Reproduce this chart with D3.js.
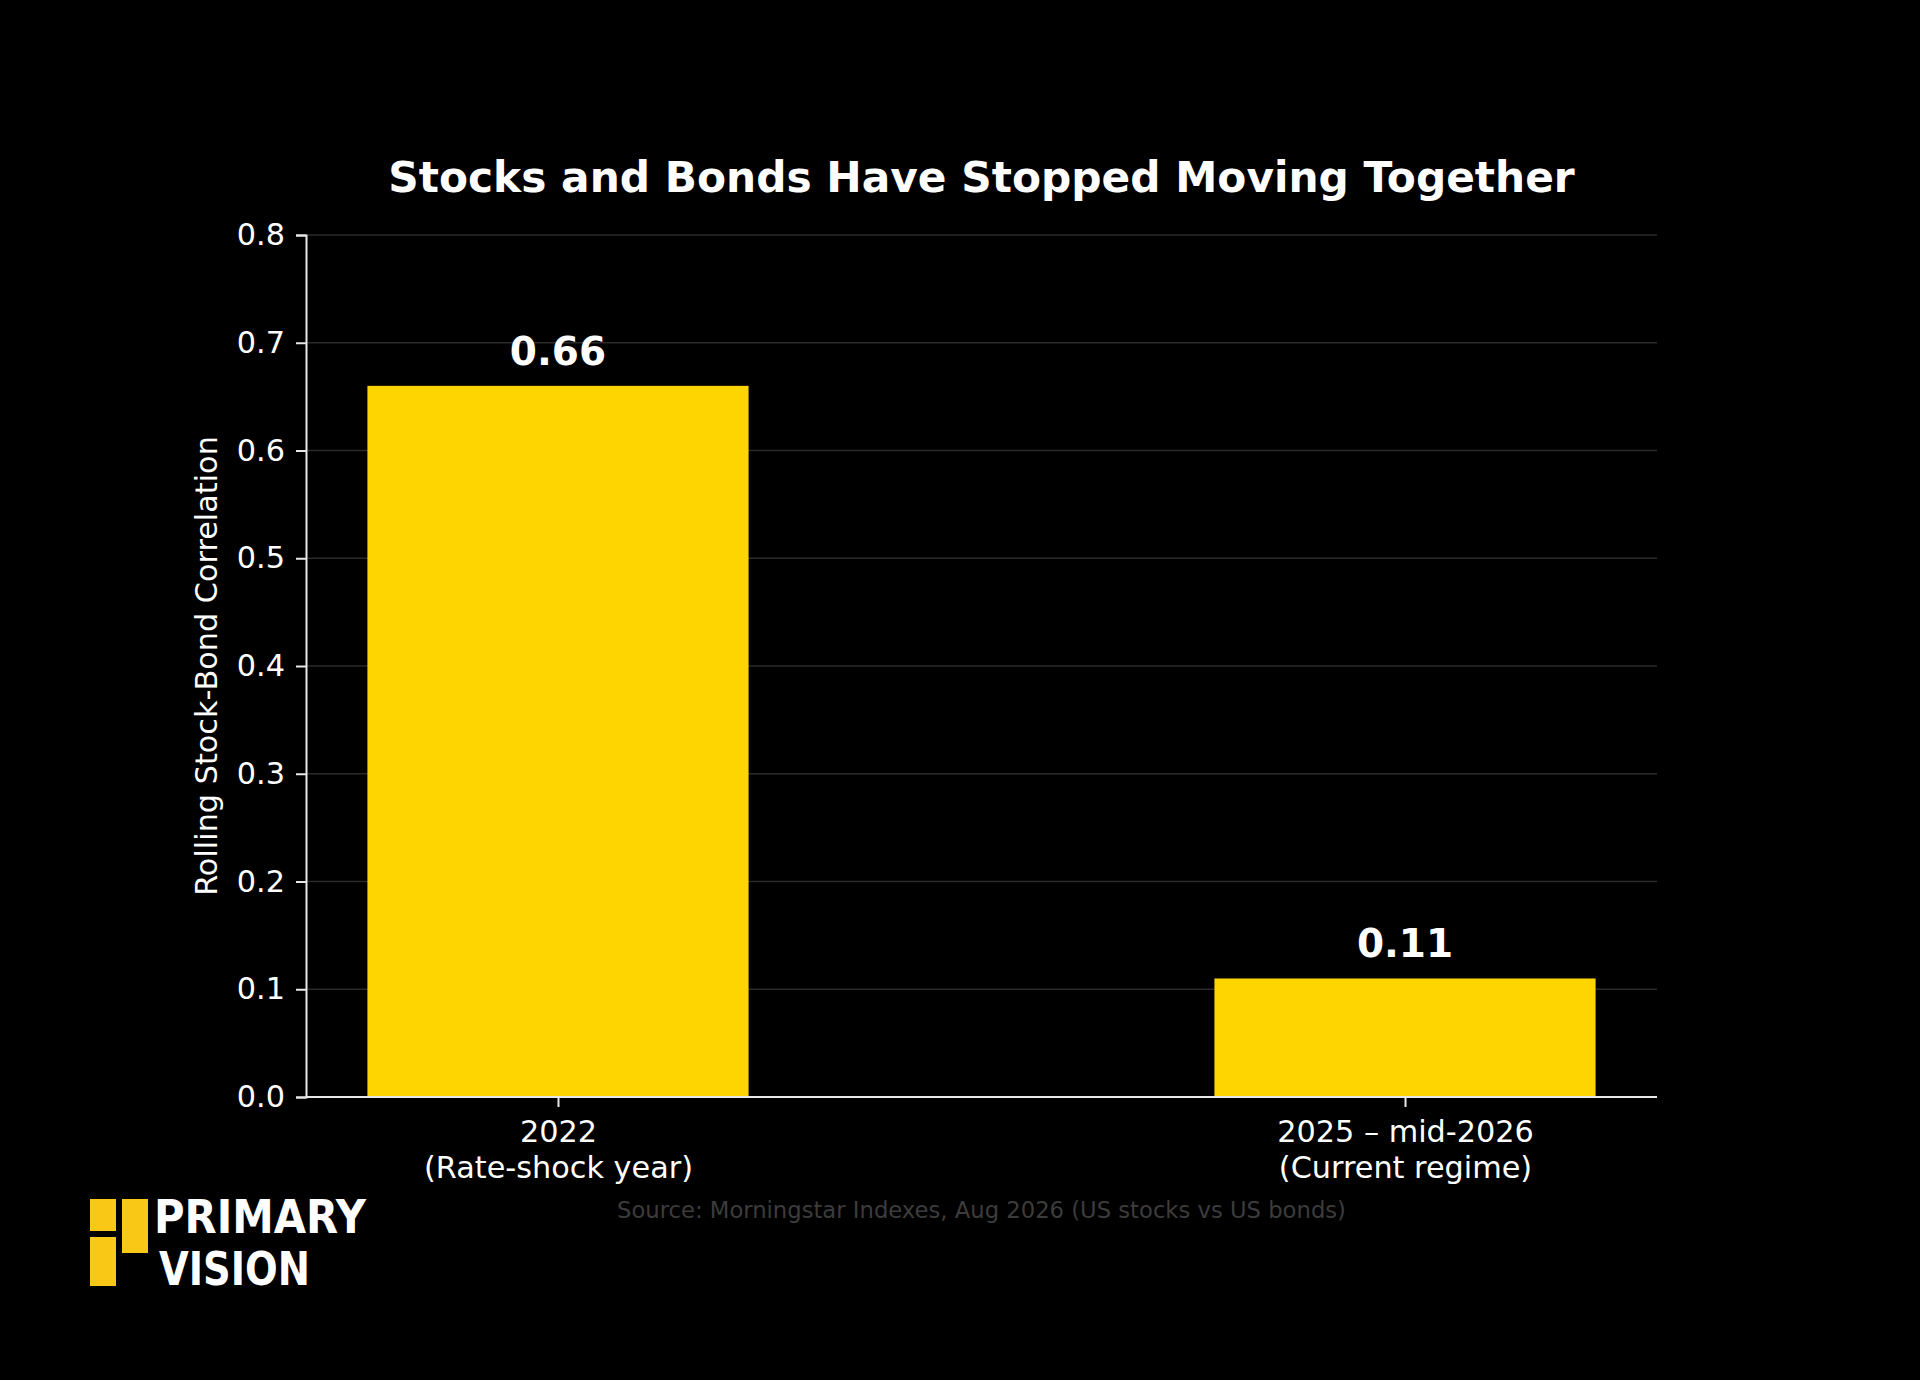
<!DOCTYPE html>
<html>
<head>
<meta charset="utf-8">
<script src="https://cdn.jsdelivr.net/npm/d3@7"></script>
<style>
  html, body { margin: 0; padding: 0; background: #000; }
  svg { display: block; }
  text { font-family: "DejaVu Sans", sans-serif; }
</style>
</head>
<body>
<script>
// data
const categories = ["2022\n(Rate-shock year)", "2025 \u2013 mid-2026\n(Current regime)"];
const correlations = [0.66, 0.11];
const valueLabels = ["0.66", "0.11"];
const yTicks = [0, 0.1, 0.2, 0.3, 0.4, 0.5, 0.6, 0.7, 0.8];

const WIDTH = 1920, HEIGHT = 1380;
const plotLeft = 306, plotRight = 1657, plotTop = 235, plotBottom = 1097;
const barWidth = 0.45;

const svg = d3.select("body").append("svg")
  .attr("width", WIDTH).attr("height", HEIGHT);

svg.append("rect").attr("width", WIDTH).attr("height", HEIGHT).attr("fill", "#000");

const x = d3.scaleLinear().domain([-0.2975, 1.2975]).range([plotLeft, plotRight]);
const y = d3.scaleLinear().domain([0, 0.8]).range([plotBottom, plotTop]);

// grid
svg.append("g").selectAll("line")
  .data(yTicks.slice(1))
  .enter().append("line")
  .attr("x1", plotLeft).attr("x2", plotRight)
  .attr("y1", d => y(d)).attr("y2", d => y(d))
  .attr("stroke", "#2a2a2a").attr("stroke-width", 1.5);

// bars
svg.append("g").selectAll("rect")
  .data(correlations)
  .enter().append("rect")
  .attr("x", (d, i) => x(i - barWidth / 2))
  .attr("width", (d, i) => x(i + barWidth / 2) - x(i - barWidth / 2))
  .attr("y", d => y(d))
  .attr("height", d => y(0) - y(d))
  .attr("fill", "#FFD500");

// value labels
svg.append("g").selectAll("text")
  .data(correlations)
  .enter().append("text")
  .attr("x", (d, i) => x(i))
  .attr("y", d => y(d) - 21)
  .attr("text-anchor", "middle")
  .attr("font-size", 39).attr("font-weight", "bold")
  .attr("fill", "#fff")
  .text((d, i) => valueLabels[i]);

// y axis
const yAxis = svg.append("g")
  .attr("transform", `translate(${plotLeft},0)`)
  .call(d3.axisLeft(y).tickValues(yTicks).tickFormat(d3.format(".1f")).tickSize(10).tickPadding(11));
yAxis.select(".domain").attr("stroke", "#e8e8e8").attr("stroke-width", 2);
yAxis.selectAll(".tick line").attr("stroke", "#e8e8e8").attr("stroke-width", 2);
yAxis.selectAll(".tick text")
  .attr("fill", "#fff").attr("font-size", 30.3)
  .attr("font-family", "DejaVu Sans");

// x axis
const xAxis = svg.append("g")
  .attr("transform", `translate(0,${plotBottom})`)
  .call(d3.axisBottom(x).tickValues([0, 1]).tickSize(10).tickFormat(""));
xAxis.select(".domain").attr("stroke", "#e8e8e8").attr("stroke-width", 2).attr("d", `M${plotLeft},0H${plotRight}`);
xAxis.selectAll(".tick line").attr("stroke", "#e8e8e8").attr("stroke-width", 2);
xAxis.selectAll(".tick").each(function(d, i) {
  const lines = categories[i].split("\n");
  const t = d3.select(this).append("text")
    .attr("fill", "#fff").attr("font-size", 30.3)
    .attr("font-family", "DejaVu Sans")
    .attr("text-anchor", "middle");
  lines.forEach((s, j) => {
    t.append("tspan").attr("x", 0).attr("y", 45 + j * 36).text(s);
  });
});

// y label
svg.append("text")
  .attr("transform", `translate(217,${(plotTop + plotBottom) / 2}) rotate(-90)`)
  .attr("text-anchor", "middle")
  .attr("font-size", 30.3).attr("fill", "#fff")
  .text("Rolling Stock-Bond Correlation");

// title
svg.append("text")
  .attr("x", (plotLeft + plotRight) / 2).attr("y", 192)
  .attr("text-anchor", "middle")
  .attr("font-size", 42.3).attr("font-weight", "bold").attr("fill", "#fff")
  .text("Stocks and Bonds Have Stopped Moving Together");

// source
svg.append("text")
  .attr("x", (plotLeft + plotRight) / 2).attr("y", 1218)
  .attr("text-anchor", "middle")
  .attr("font-size", 22.7).attr("fill", "#3c3c3c")
  .text("Source: Morningstar Indexes, Aug 2026 (US stocks vs US bonds)");

// logo
const logo = svg.append("g");
logo.append("rect").attr("x", 90).attr("y", 1199).attr("width", 26).attr("height", 32).attr("fill", "#F9C816");
logo.append("rect").attr("x", 90).attr("y", 1237).attr("width", 26).attr("height", 49).attr("fill", "#F9C816");
logo.append("rect").attr("x", 122).attr("y", 1199).attr("width", 26).attr("height", 54).attr("fill", "#F9C816");
logo.append("text").attr("x", 154).attr("y", 1233)
  .attr("font-family", "DejaVu Sans Condensed, Liberation Sans Narrow, sans-serif")
  .attr("font-size", 47).attr("font-weight", 600).attr("fill", "#fff")
  .attr("textLength", 212).attr("lengthAdjust", "spacingAndGlyphs")
  .text("PRIMARY");
logo.append("text").attr("x", 159).attr("y", 1285)
  .attr("font-family", "DejaVu Sans Condensed, Liberation Sans Narrow, sans-serif")
  .attr("font-size", 47).attr("font-weight", 600).attr("fill", "#fff")
  .attr("textLength", 151).attr("lengthAdjust", "spacingAndGlyphs")
  .text("VISION");
</script>
</body>
</html>
